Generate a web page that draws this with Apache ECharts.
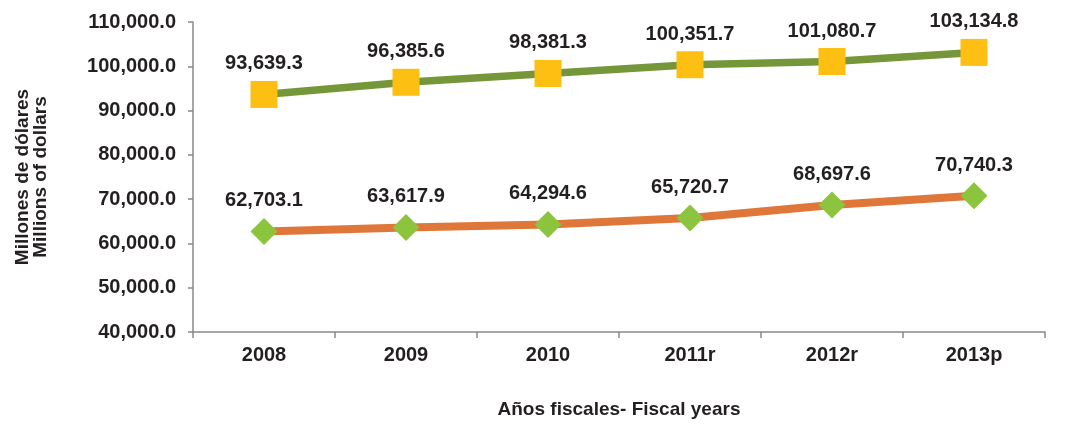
<!DOCTYPE html>
<html><head><meta charset="utf-8">
<script src="https://cdn.jsdelivr.net/npm/echarts@6/dist/echarts.min.js"></script>
<style>html,body{margin:0;padding:0;background:#fff}#c{width:1089px;height:424px}</style>
</head><body><div id="c"></div>
<script>
const categories = ['2008','2009','2010','2011r','2012r','2013p'];
const seriesTop = [93639.3, 96385.6, 98381.3, 100351.7, 101080.7, 103134.8];
const seriesBottom = [62703.1, 63617.9, 64294.6, 65720.7, 68697.6, 70740.3];
const yTicks = {min: 40000, max: 110000, interval: 10000};

const fmt = v => v.toLocaleString('en-US', {minimumFractionDigits: 1, maximumFractionDigits: 1});
const font = 'Liberation Sans, Arial, sans-serif';
const chart = echarts.init(document.getElementById('c'));
chart.setOption({
  animation: false,
  grid: {left: 193, right: 44, top: 22, bottom: 89},
  xAxis: {
    type: 'category', data: categories, boundaryGap: true,
    name: 'Años fiscales- Fiscal years', nameLocation: 'middle', nameGap: 68,
    nameTextStyle: {fontFamily: font, fontWeight: 'bold', fontSize: 19, color: '#231f20'},
    axisLine: {lineStyle: {color: '#898989', width: 1.5}},
    axisTick: {show: true, interval: 0, length: 6, lineStyle: {color: '#898989', width: 1.5}},
    axisLabel: {fontFamily: font, fontWeight: 'bold', fontSize: 20, color: '#231f20', margin: 13},
    splitLine: {show: false}
  },
  yAxis: {
    type: 'value', min: yTicks.min, max: yTicks.max, interval: yTicks.interval,
    name: 'Millones de dólares\nMillions of dollars', nameLocation: 'middle', nameGap: 143, nameRotate: 90,
    nameTextStyle: {fontFamily: font, fontWeight: 'bold', fontSize: 19, color: '#231f20', lineHeight: 18},
    axisLine: {show: true, lineStyle: {color: '#898989', width: 1.5}},
    axisTick: {show: true, length: 5, lineStyle: {color: '#898989', width: 1.5}},
    axisLabel: {fontFamily: font, fontWeight: 'bold', fontSize: 20, color: '#231f20', margin: 17, formatter: v => fmt(v)},
    splitLine: {show: false}
  },
  series: [
    {
      type: 'line', data: seriesTop, symbol: 'rect', symbolSize: 27,
      lineStyle: {color: '#76963A', width: 7.5}, itemStyle: {color: '#FDBF12'},
      label: {show: true, position: 'top', distance: 7, formatter: p => fmt(p.value),
        fontFamily: font, fontWeight: 'bold', fontSize: 20, color: '#231f20'}
    },
    {
      type: 'line', data: seriesBottom, symbol: 'diamond', symbolSize: [27, 27],
      lineStyle: {color: '#E0773A', width: 8}, itemStyle: {color: '#8DC43D'},
      label: {show: true, position: 'top', distance: 7, formatter: p => fmt(p.value),
        fontFamily: font, fontWeight: 'bold', fontSize: 20, color: '#231f20'}
    }
  ]
});
</script></body></html>
